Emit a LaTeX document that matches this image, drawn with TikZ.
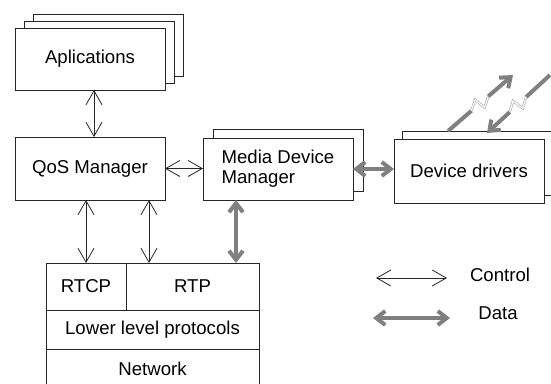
\documentclass[tikz,border=0pt]{standalone}
\usepackage{fontspec}
\setmainfont{Liberation Sans}
\usetikzlibrary{arrows.meta,positioning,shadows,calc}
\definecolor{datagray}{RGB}{128,128,128}

\begin{document}
\begin{tikzpicture}[
  x=1pt, y=-1pt,
  font=\fontsize{18.6}{20}\selectfont,
  box/.style={draw=black!85, fill=white, line width=0.9pt, minimum width=150pt, minimum height=62pt, inner sep=0pt, outer sep=0pt},
  layer/.style={draw=black!85, line width=0.9pt, inner sep=0pt, outer sep=0pt},
  every shadow/.style={draw=black!85, fill=white, line width=0.9pt},
  ctrl/.style={{Straight Barb[length=14pt,width=16pt]}-{Straight Barb[length=14pt,width=16pt]}, line width=0.8pt, black!85},
  data/.style={{Straight Barb[length=9pt,width=14pt]}-{Straight Barb[length=9pt,width=14pt]}, line width=4pt, datagray},
  wire/.style={line width=4pt, datagray},
  bolt/.style={draw=black!35, double=white, double distance=1.2pt, line width=0.6pt}
]
\useasboundingbox (0,0) rectangle (551,383);
\node[box, double copy shadow={shadow xshift=9pt, shadow yshift=7pt}] (app) at (90,59) {Aplications};
\node[box, minimum height=63pt, below=47pt of app] (qos) {QoS Manager};
\node[box, align=left, copy shadow={shadow xshift=10pt, shadow yshift=9pt}] (mdm) at (278,169) {Media Device\\Manager};
\node[box, minimum height=64pt, copy shadow={shadow xshift=8pt, shadow yshift=8pt}] (dd) at (469,171) {Device drivers};

\node[layer, minimum width=80pt, minimum height=47pt] (rtcp) at (86,286.5) {RTCP};
\node[layer, minimum width=133pt, minimum height=47pt, right=0pt of rtcp] (rtp) {RTP};
\node[layer, minimum width=213pt, minimum height=39pt, anchor=north west] (low) at (rtcp.south west) {Lower level protocols};
\node[layer, minimum width=213pt, minimum height=40pt, below=0pt of low] (net) {Network};

\draw[ctrl] ([xshift=4pt]app.south) -- ([xshift=4pt]qos.north);
\draw[ctrl] (qos.east) -- (qos.east -| mdm.west);
\draw[ctrl] (qos.south -| rtcp.north) -- (rtcp.north);
\draw[ctrl] ([xshift=59pt]qos.south) -- ([xshift=59pt]qos.south |- rtp.north);
\draw[data] ([xshift=-42pt]mdm.south) -- ([xshift=-42pt]mdm.south |- rtp.north);
\draw[data] (mdm.east) -- (mdm.east -| dd.west);

\coordinate (up0) at (448,131);
\coordinate (up1) at (513,75);
\draw[wire] (up0) -- ($(up0)!.36!(up1)$) coordinate (upa);
\coordinate (upb) at ($(up0)!.62!(up1)$);
\draw[bolt] (upa) -- ($(upa)!.45!(upb)!6pt!90:(upb)$) -- ($(upa)!.55!(upb)!6pt!-90:(upb)$) -- (upb);
\draw[wire, -{Straight Barb[length=9pt,width=14pt]}] (upb) -- (up1);

\coordinate (dn0) at (550,75);
\coordinate (dn1) at (487,133);
\draw[wire] (dn0) -- ($(dn0)!.38!(dn1)$) coordinate (dna);
\coordinate (dnb) at ($(dn0)!.64!(dn1)$);
\draw[bolt] (dna) -- ($(dna)!.45!(dnb)!6pt!90:(dnb)$) -- ($(dna)!.55!(dnb)!6pt!-90:(dnb)$) -- (dnb);
\draw[wire, -{Straight Barb[length=9pt,width=14pt]}] (dnb) -- (dn1);

\coordinate (c0) at (376,278);
\coordinate (c1) at (447,278);
\draw[ctrl] (c0) -- (c1);
\node (ctrltxt) at (500,275) {Control};
\coordinate (d0) at (373,318);
\coordinate (d1) at (450,318);
\draw[data] (d0) -- (d1);
\node (datatxt) at (498,313) {Data};
\end{tikzpicture}
\end{document}
